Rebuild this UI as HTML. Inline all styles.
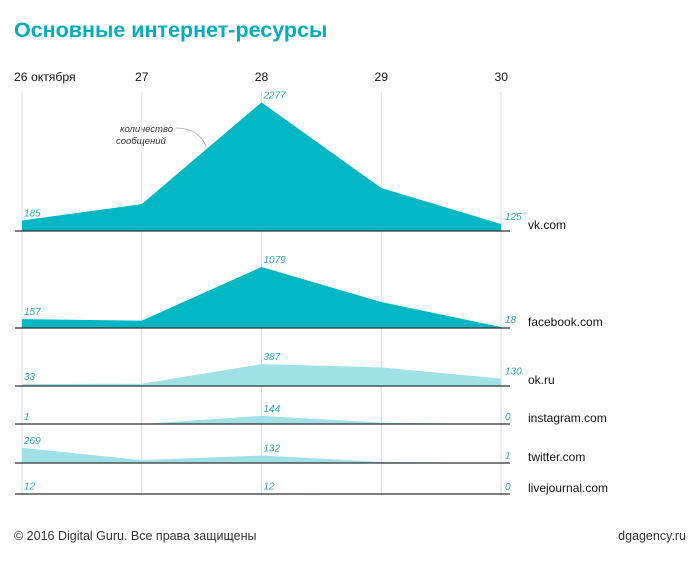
<!DOCTYPE html>
<html><head><meta charset="utf-8"><style>
body{margin:0;background:#fff;width:700px;height:561px;overflow:hidden;font-family:"Liberation Sans","DejaVu Sans",sans-serif}
</style></head><body>
<svg width="700" height="561" id="c">
<text x="14" y="37" font-size="21.5" font-weight="bold" fill="#00aebd">Основные интернет-ресурсы</text>
<text x="14" y="540" font-size="12.5" fill="#333">© 2016 Digital Guru. Все права защищены</text>
<text x="686" y="540" font-size="12.5" fill="#333" text-anchor="end">dgagency.ru</text>
<text x="120" y="132" font-size="9.5" font-style="italic" fill="#333">количество</text>
<text x="116" y="144" font-size="9.5" font-style="italic" fill="#333">сообщений</text>
<path d="M176,128 Q198,128 206,146" fill="none" stroke="#aaa" stroke-width="0.8"/>
</svg>
<script>
const dates=["26 октября","27","28","29","30"];
const sites=["vk.com","facebook.com","ok.ru","instagram.com","twitter.com","livejournal.com"];
const vk=[185,475,2277,760,125];
const fb=[157,130,1079,460,18];
const ok=[33,40,387,330,130];
const insta=[1,0,144,25,0];
const tw=[269,50,132,20,1];
const lj=[12,12,12,6,0];
const labels=[[185,null,2277,null,125],[157,null,1079,null,18],[33,null,387,null,130],[1,null,144,null,0],[269,null,132,null,1],[12,null,12,null,0]];
const series=[vk,fb,ok,insta,tw,lj];
const baselines=[231,328,386,424,463,494];
const colors=["#00b7c3","#00b7c3","#9fe1e7","#9fe1e7","#9fe1e7","#9fe1e7"];
const svg=document.getElementById('c');const NS="http://www.w3.org/2000/svg";
const x=i=>22+i*119.75;const h=v=>v*0.0565;
function mk(t,a){const e=document.createElementNS(NS,t);for(const k in a)e.setAttribute(k,a[k]);svg.appendChild(e);return e;}
dates.forEach((d,i)=>{
 const l=mk('line',{x1:x(i),x2:x(i),y1:92,y2:496,stroke:'#ddd','stroke-width':1});
 
 
 const t=mk('text',{x:i==0?14:x(i),y:81,'font-size':12.2,fill:'#111','text-anchor':i==0?'start':(i==4?'end':'middle')});
 if(i==4)t.setAttribute('x',x(i)+7);
 t.textContent=d;
 
 
});
series.forEach((s,k)=>{
 const b=baselines[k];
 let d=`M${x(0)},${b}`;s.forEach((v,i)=>d+=` L${x(i)},${b-h(v)}`);d+=` L${x(4)},${b} Z`;
 const p=mk('path',{d:d,fill:colors[k]});
 
 
 const bl=mk('line',{x1:15,x2:510,y1:b,y2:b,stroke:'#333','stroke-width':1.2});
 
 
 const st=mk('text',{x:528,y:b-2,'font-size':12,fill:'#111'});st.textContent=sites[k];
 
 
 labels[k].forEach((v,i)=>{if(v===null)return;
  const tx=i==4?x(i)+4:x(i)+2;
  const t=mk('text',{x:tx,y:b-h(s[i])-4,'font-size':10,'font-style':'italic',fill:'#2aa9b8'});
  t.textContent=v;
  
  
 });
});
</script>
</body></html>
